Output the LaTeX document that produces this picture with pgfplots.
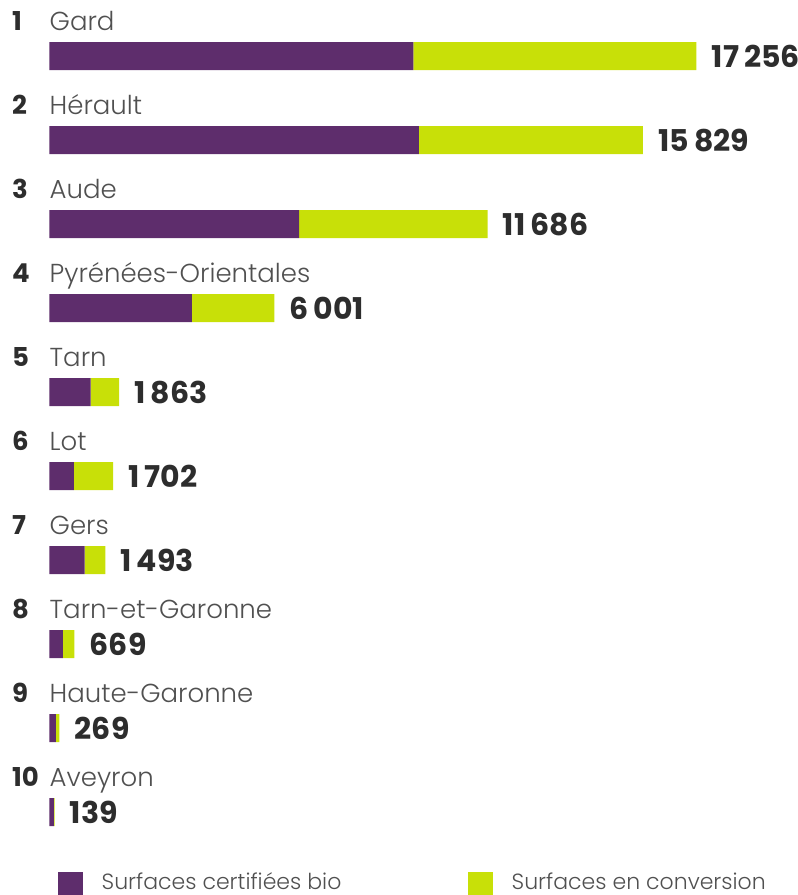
\documentclass[border=0pt]{standalone}
\usepackage{pgfplots}
\pgfplotsset{compat=1.18}
\usepackage{fontspec}
\setmainfont{Poppins}
\IfFontExistsTF{Poppins Light}{\newfontfamily\lightfont{Poppins Light}}{\newfontfamily\lightfont{Poppins}}
\definecolor{bio}{RGB}{94,45,108}
\definecolor{conv}{RGB}{200,224,8}
\definecolor{namegray}{RGB}{80,80,80}
\definecolor{numdark}{RGB}{45,45,45}
\begin{document}
\begin{tikzpicture}
\useasboundingbox (0,0) rectangle (399pt,447.5pt);
\begin{axis}[
  at={(24.65pt,440.4pt)}, anchor=north west,
  scale only axis, width=350pt, height=420pt,
  xbar stacked, bar width=14pt,
  xmin=0, xmax=18667,
  ymin=-0.5, ymax=9.5, y dir=reverse,
  hide axis, clip=false,
  legend columns=2,
  legend cell align=left,
  legend style={at={(axis description cs:0.01286,-0.0210)}, anchor=north west,
    draw=none, fill=none, inner sep=0pt, outer sep=0pt,
    nodes={inner sep=0pt, outer sep=0pt, anchor=base},
    font=\lightfont\fontsize{11}{13}\selectfont, text=namegray,
    /tikz/every even column/.append style={column sep=0pt},
    /tikz/every odd column/.append style={column sep=0pt}},
]
\addplot[fill=bio, draw=none,
  legend image code/.code={\fill[bio] (0pt,-4pt) rectangle (12.5pt,8.7pt);}]
  coordinates {(9711,0) (9854,1) (6661,2) (3803,3) (1099,4) (655,5) (945,6) (359,7) (178,8) (125,9)};
\addlegendentry{\makebox[192.5pt][l]{\hspace*{9.2pt}Surfaces certifiées bio}}
\addplot[fill=conv, draw=none,
  legend image code/.code={\fill[conv] (0pt,-4pt) rectangle (12.5pt,8.7pt);}]
  coordinates {(7545,0) (5975,1) (5025,2) (2198,3) (764,4) (1047,5) (548,6) (310,7) (91,8) (14,9)};
\addlegendentry{\hspace*{9.2pt}Surfaces en conversion}
\addplot[fill=white, fill opacity=0, draw=none,
  point meta=explicit symbolic,
  nodes near coords,
  every node near coord/.append style={anchor=west, inner sep=0pt, xshift=7.5pt, text opacity=1,
    font=\bfseries\fontsize{15}{17}\selectfont, text=numdark}]
  coordinates {(1,0) [17\,256] (1,1) [15\,829] (1,2) [11\,686] (1,3) [6\,001]
               (1,4) [1\,863] (1,5) [1\,702] (1,6) [1\,493] (1,7) [669]
               (1,8) [269] (1,9) [139]};
\foreach \i/\r/\n in {0/1/Gard,1/2/Hérault,2/3/Aude,3/4/Pyrénées-Orientales,4/5/Tarn,5/6/Lot,6/7/Gers,7/8/Tarn-et-Garonne,8/9/Haute-Garonne,9/10/Aveyron}{
  \edef\tmp{\noexpand\node[anchor=base west, inner sep=0pt, font=\noexpand\bfseries\noexpand\fontsize{13}{15}\noexpand\selectfont, text=numdark] at ([xshift=-18.8pt,yshift=13.1pt]axis cs:0,\i) {\r};
  \noexpand\node[anchor=base west, inner sep=0pt, font=\noexpand\lightfont\noexpand\fontsize{13}{15}\noexpand\selectfont, text=namegray] at ([yshift=13.1pt]axis cs:0,\i) {\n};}
  \tmp
}
\end{axis}
\end{tikzpicture}
\end{document}
